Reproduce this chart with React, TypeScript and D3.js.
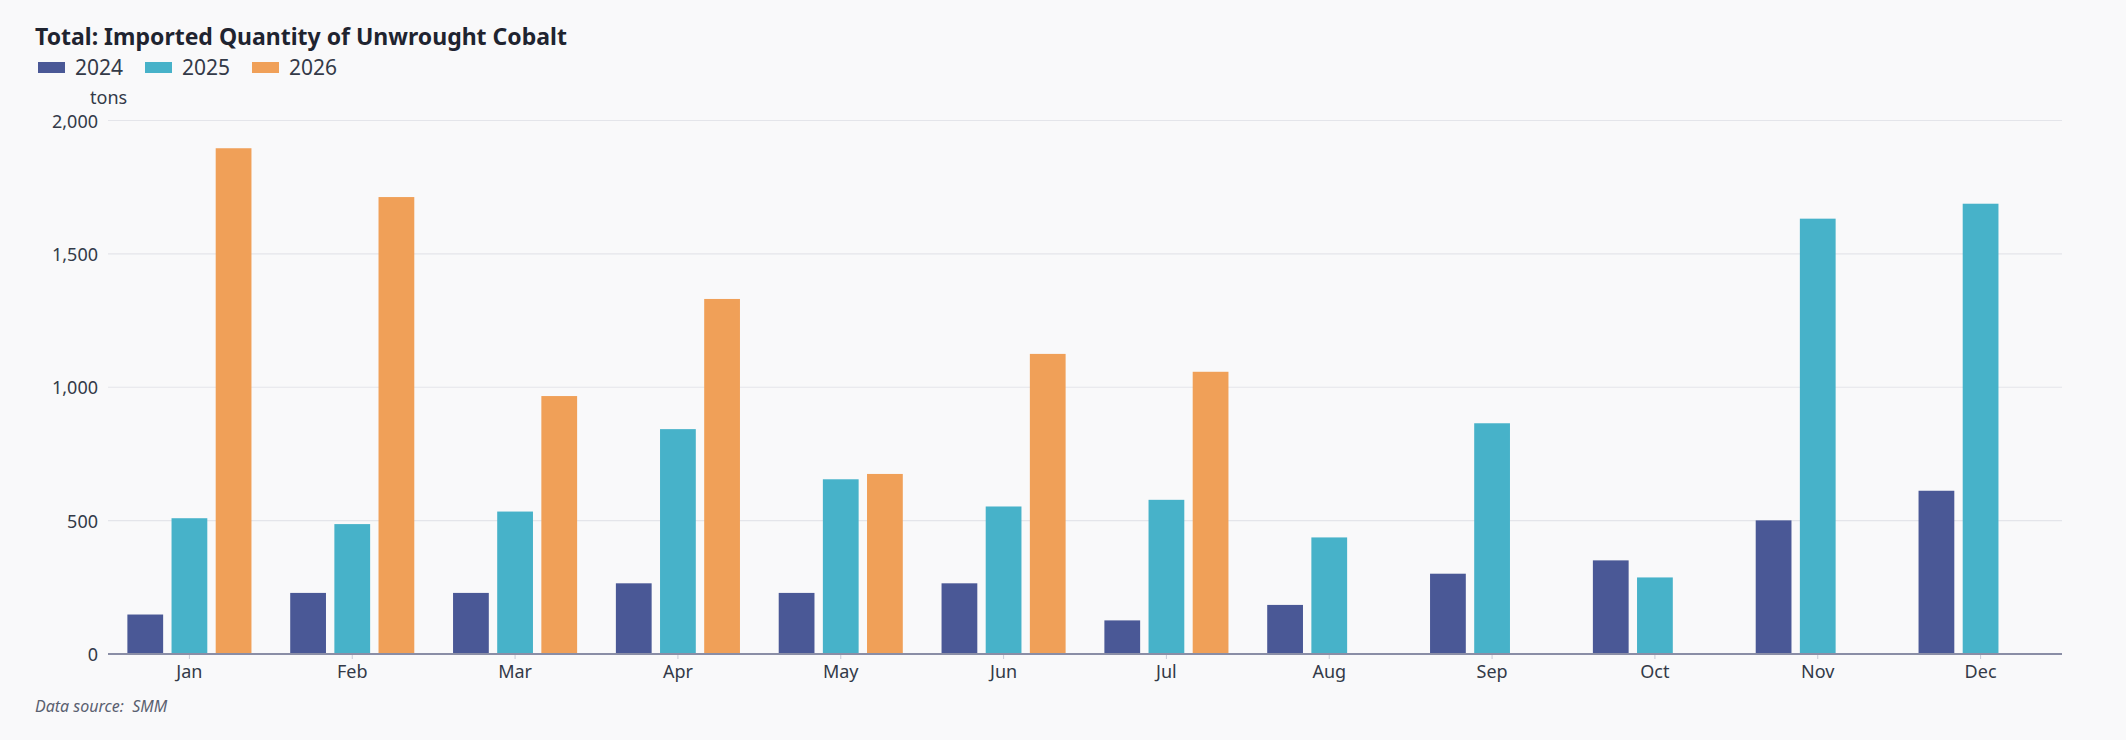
import { useEffect } from "react";
import * as d3 from "d3";

const months = ["Jan", "Feb", "Mar", "Apr", "May", "Jun", "Jul", "Aug", "Sep", "Oct", "Nov", "Dec"];
const years = ["2024", "2025", "2026"];
const values2024 = [148, 229, 229, 265, 229, 265, 126, 184, 301, 351, 501, 612];
const values2025 = [509, 487, 534, 843, 655, 553, 578, 437, 865, 287, 1632, 1688];
const values2026 = [1896, 1713, 967, 1331, 675, 1125, 1058, null, null, null, null, null];
const yTicks = [0, 500, 1000, 1500, 2000];
const colors = ["#4a5896", "#47b2c9", "#f0a058"];

const WIDTH = 2126;
const HEIGHT = 740;
const LEFT = 108;
const RIGHT = 2062;
const TOP = 120.5;
const BOTTOM = 654;
const FONT = "'Noto Sans', 'Open Sans', sans-serif";

const App = () => {
  useEffect(() => {
    document.body.style.margin = "0";
  }, []);

  const series = [values2024, values2025, values2026];

  const x0 = d3.scaleBand<string>().domain(months).range([LEFT, RIGHT]).paddingInner(0.238).paddingOuter(0.119);
  const x1 = d3.scaleBand<string>().domain(years).range([0, x0.bandwidth()]).paddingInner(0.19);
  const y = d3.scaleLinear().domain([0, 2000]).range([BOTTOM, TOP]);
  const fmt = d3.format(",");

  return (
    <svg width={WIDTH} height={HEIGHT} style={{ display: "block", background: "#f9f9fa" }}>
      <rect width={WIDTH} height={HEIGHT} fill="#f9f9fa" />
      <text x={35} y={45} fontFamily={FONT} fontSize={23} fontWeight={700} fill="#1f2430">
        Total: Imported Quantity of Unwrought Cobalt
      </text>

      {years.map((yr, i) => (
        <g key={yr} transform={`translate(${38 + i * 107}, 0)`}>
          <rect x={0} y={62} width={27} height={11} fill={colors[i]} />
          <text x={37} y={75} fontFamily={FONT} fontSize={21} fill="#333a48">
            {yr}
          </text>
        </g>
      ))}

      <text x={90} y={104} fontFamily={FONT} fontSize={18} fill="#333a48">
        tons
      </text>

      {yTicks.map((t) => (
        <g key={t}>
          {t > 0 && <line x1={LEFT} x2={RIGHT} y1={y(t)} y2={y(t)} stroke="#e4e5ea" strokeWidth={1.2} />}
          <text
            x={98}
            y={y(t)}
            textAnchor="end"
            dominantBaseline="central"
            fontFamily={FONT}
            fontSize={18}
            fill="#333a48"
          >
            {fmt(t)}
          </text>
        </g>
      ))}

      {months.map((m, mi) => (
        <g key={m} transform={`translate(${x0(m)}, 0)`}>
          {series.map((vals, si) => {
            const v = vals[mi];
            if (v == null) return null;
            return (
              <rect
                key={si}
                x={x1(years[si])}
                y={y(v)}
                width={x1.bandwidth()}
                height={y(0) - y(v)}
                fill={colors[si]}
              />
            );
          })}
          <line
            x1={x0.bandwidth() / 2}
            x2={x0.bandwidth() / 2}
            y1={y(0)}
            y2={y(0) + 5}
            stroke="#c8cad6"
            strokeWidth={1}
          />
          <text
            x={x0.bandwidth() / 2}
            y={671}
            textAnchor="middle"
            dominantBaseline="central"
            fontFamily={FONT}
            fontSize={18}
            fill="#333a48"
          >
            {m}
          </text>
        </g>
      ))}

      <line x1={LEFT} x2={RIGHT} y1={y(0)} y2={y(0)} stroke="#8a8ea6" strokeWidth={2} />

      <text
        x={35}
        y={712}
        fontFamily={FONT}
        fontSize={16}
        fontStyle="italic"
        fill="#5a6070"
        style={{ whiteSpace: "pre" }}
      >
        {"Data source:  SMM"}
      </text>
    </svg>
  );
};

export default App;
